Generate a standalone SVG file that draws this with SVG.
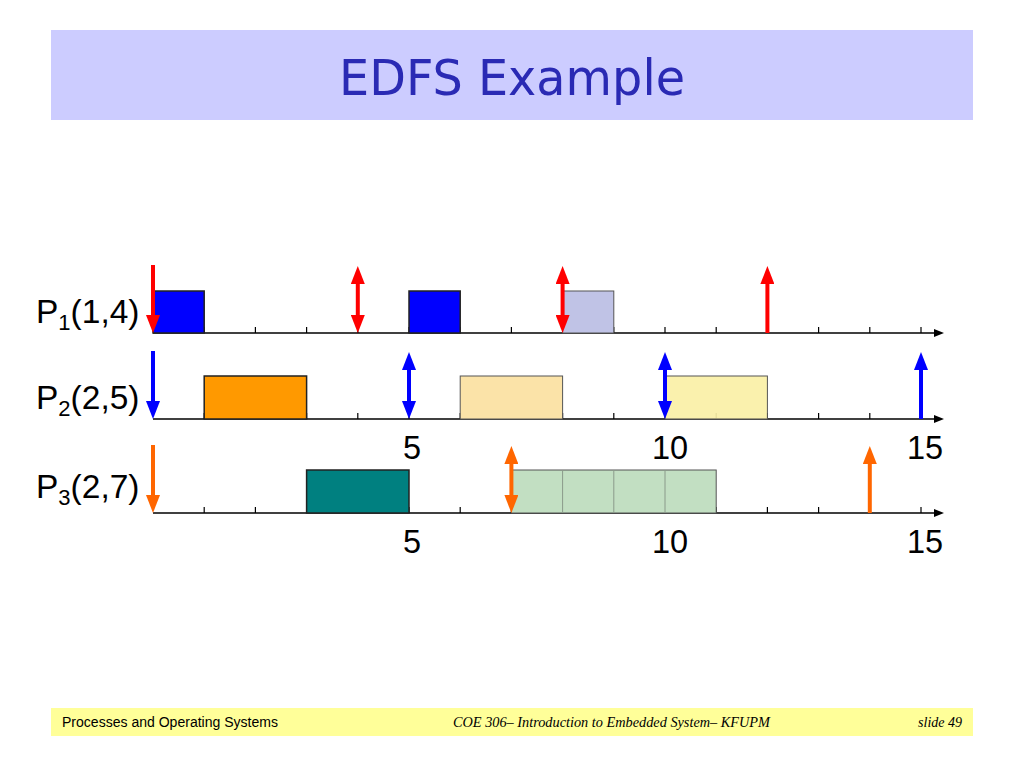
<svg xmlns="http://www.w3.org/2000/svg" width="1024" height="768" viewBox="0 0 1024 768">
<style>
.axis{stroke:#000;stroke-width:1.5;fill:none}
.tick{stroke:#000;stroke-width:1.2}
.box{stroke:#222;stroke-width:1.5}
.lbox{stroke:#555;stroke-width:1}
.red{stroke:#FF0000;stroke-width:4;fill:none}
.blue{stroke:#0000FF;stroke-width:4;fill:none}
.org{stroke:#FF6600;stroke-width:4;fill:none}
.lab{font-family:"Liberation Sans",Arial,sans-serif;font-size:33.5px;fill:#000}
.num{font-family:"Liberation Sans",Arial,sans-serif;font-size:32.5px;fill:#000;text-anchor:middle}
.foot{font-size:14px;fill:#000}
</style>
<defs>
<marker id="ar" viewBox="0 0 18 14" markerWidth="18" markerHeight="14" refX="7" refY="7" orient="auto-start-reverse" markerUnits="userSpaceOnUse"><path d="M0,0 L18,7 L0,14 z" fill="#FF0000"/></marker>
<marker id="ab" viewBox="0 0 18 14" markerWidth="18" markerHeight="14" refX="7" refY="7" orient="auto-start-reverse" markerUnits="userSpaceOnUse"><path d="M0,0 L18,7 L0,14 z" fill="#0000FF"/></marker>
<marker id="ao" viewBox="0 0 18 14" markerWidth="18" markerHeight="14" refX="7" refY="7" orient="auto-start-reverse" markerUnits="userSpaceOnUse"><path d="M0,0 L18,7 L0,14 z" fill="#FF6600"/></marker>
<marker id="ax" viewBox="0 0 10 8" markerWidth="10" markerHeight="8" refX="2" refY="4" orient="auto" markerUnits="userSpaceOnUse"><path d="M0,0 L10,4 L0,8 z" fill="#000"/></marker>
</defs>
<rect width="1024" height="768" fill="#fff"/>
<g id="title">
<rect x="51" y="30" width="922" height="90" fill="#CCCCFF"/>
<text x="512" y="95" text-anchor="middle" font-family="'DejaVu Sans',sans-serif" font-size="50" fill="#2A2AB4" textLength="346" lengthAdjust="spacingAndGlyphs">EDFS Example</text>
</g>
<g id="labels">
<text class="lab" x="36" y="323">P<tspan font-size="22" dy="7">1</tspan><tspan dy="-7">(1,4)</tspan></text>
<text class="lab" x="36" y="409">P<tspan font-size="22" dy="7">2</tspan><tspan dy="-7">(2,5)</tspan></text>
<text class="lab" x="36" y="498">P<tspan font-size="22" dy="7">3</tspan><tspan dy="-7">(2,7)</tspan></text>
<text class="num" x="412" y="459">5</text>
<text class="num" x="670" y="459">10</text>
<text class="num" x="925" y="459">15</text>
<text class="num" x="412" y="553">5</text>
<text class="num" x="670" y="553">10</text>
<text class="num" x="925" y="553">15</text>
</g>
<g id="axes">
<line class="axis" x1="153" y1="333" x2="936" y2="333" marker-end="url(#ax)"/>
<line class="axis" x1="153" y1="419" x2="936" y2="419" marker-end="url(#ax)"/>
<line class="axis" x1="153" y1="513" x2="936" y2="513" marker-end="url(#ax)"/>
<path class="tick" d="M204.2,333v-6M255.4,333v-6M306.6,333v-6M357.8,333v-6M409,333v-6M460.2,333v-6M511.4,333v-6M562.6,333v-6M613.8,333v-6M665,333v-6M716.2,333v-6M767.4,333v-6M818.6,333v-6M869.8,333v-6M921,333v-6"/>
<path class="tick" d="M204.2,419v-6M255.4,419v-6M306.6,419v-6M357.8,419v-6M409,419v-6M460.2,419v-6M511.4,419v-6M562.6,419v-6M613.8,419v-6M665,419v-6M716.2,419v-6M767.4,419v-6M818.6,419v-6M869.8,419v-6M921,419v-6"/>
<path class="tick" d="M204.2,513v-6M255.4,513v-6M306.6,513v-6M357.8,513v-6M409,513v-6M460.2,513v-6M511.4,513v-6M562.6,513v-6M613.8,513v-6M665,513v-6M716.2,513v-6M767.4,513v-6M818.6,513v-6M869.8,513v-6M921,513v-6"/>
</g>
<g id="p1-boxes">
<rect class="box" x="153" y="291" width="51.2" height="42" fill="#0000FF"/>
<rect class="box" x="409" y="291" width="51.2" height="42" fill="#0000FF"/>
<rect class="lbox" x="562.6" y="291" width="51.2" height="42" fill="#C0C3E6"/>
</g>
<g id="p2-boxes">
<rect class="box" x="204.2" y="376" width="102.4" height="43" fill="#FF9900"/>
<rect class="lbox" x="460.2" y="376" width="102.4" height="43" fill="#FBE3A8"/>
<rect class="lbox" x="665" y="376" width="102.4" height="43" fill="#FAF0A6" fill-opacity="0.92"/>
</g>
<g id="p3-boxes">
<rect class="box" x="306.6" y="470" width="102.4" height="43" fill="#008080"/>
<rect class="lbox" x="511.4" y="470" width="204.8" height="43" fill="#C2DFC2"/>
<path d="M562.6,470v43M613.8,470v43M665,470v43" stroke="#8a9a8a" stroke-width="1"/>
</g>
<g id="connectors">
<line class="red" x1="153" y1="265" x2="153" y2="322" marker-end="url(#ar)"/>
<line class="red" x1="357.8" y1="277" x2="357.8" y2="322" marker-start="url(#ar)" marker-end="url(#ar)"/>
<line class="red" x1="562.6" y1="277" x2="562.6" y2="322" marker-start="url(#ar)" marker-end="url(#ar)"/>
<line class="red" x1="767.4" y1="333" x2="767.4" y2="277" marker-end="url(#ar)"/>
<line class="blue" x1="153" y1="351" x2="153" y2="408" marker-end="url(#ab)"/>
<line class="blue" x1="409" y1="363" x2="409" y2="408" marker-start="url(#ab)" marker-end="url(#ab)"/>
<line class="blue" x1="665" y1="363" x2="665" y2="408" marker-start="url(#ab)" marker-end="url(#ab)"/>
<line class="blue" x1="921" y1="419" x2="921" y2="363" marker-end="url(#ab)"/>
<line class="org" x1="153" y1="445" x2="153" y2="502" marker-end="url(#ao)"/>
<line class="org" x1="511.4" y1="457" x2="511.4" y2="502" marker-start="url(#ao)" marker-end="url(#ao)"/>
<line class="org" x1="869.8" y1="513" x2="869.8" y2="457" marker-end="url(#ao)"/>
</g>
<g id="footer">
<rect x="51" y="708" width="922" height="28" fill="#FFFF99"/>
<text class="foot" x="62" y="727" font-family="'Liberation Sans',Arial,sans-serif" textLength="216" lengthAdjust="spacingAndGlyphs">Processes and Operating Systems</text>
<text class="foot" x="453" y="727" font-family="'Liberation Serif','Times New Roman',serif" font-style="italic" textLength="317" lengthAdjust="spacingAndGlyphs">COE 306– Introduction to Embedded System– KFUPM</text>
<text class="foot" x="962" y="727" text-anchor="end" font-family="'Liberation Serif','Times New Roman',serif" font-style="italic">slide 49</text>
</g>
</svg>
